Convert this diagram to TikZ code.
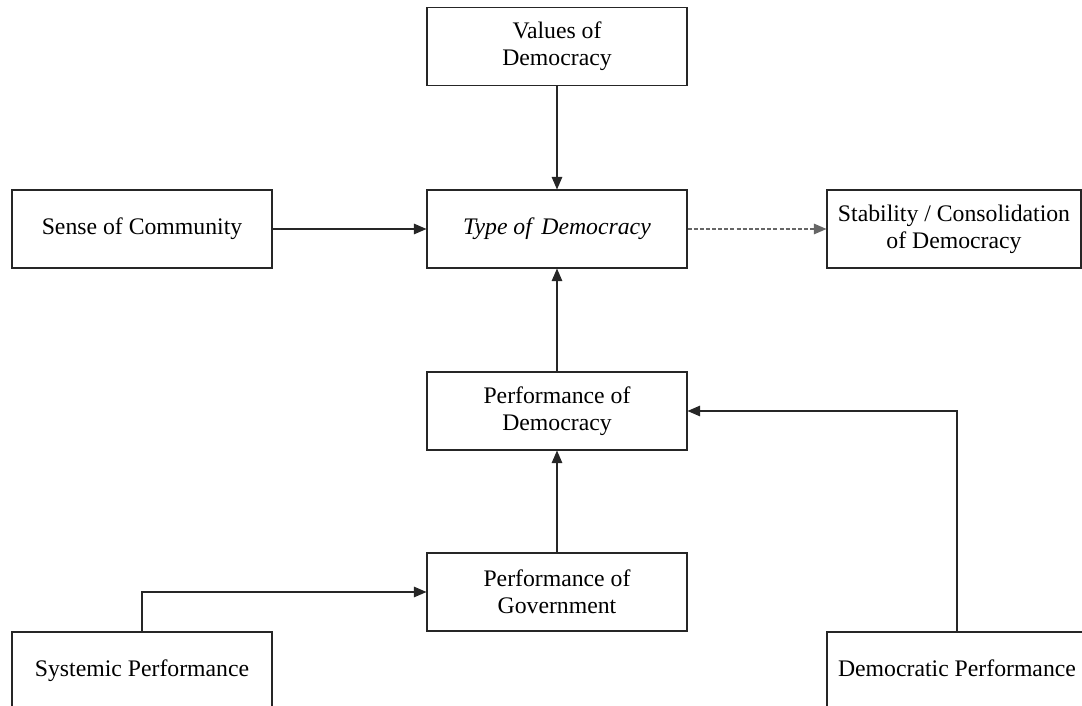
\documentclass[tikz,border=0pt]{standalone}
\usepackage{fontspec}
\setmainfont{Liberation Serif}
\usetikzlibrary{arrows.meta}
\begin{document}
\begin{tikzpicture}[x=0.75pt,y=-0.75pt,
  box/.style={draw=black!85,line width=0.8pt,rectangle,inner sep=0pt,
    minimum width=195pt,minimum height=58.5pt,align=center,
    font=\fontsize{17.8}{20.3}\selectfont},
  arr/.style={draw=black!85,line width=0.8pt,-{Triangle[length=9.5pt,width=8pt]}},
  darr/.style={arr,draw=black!60,dash pattern=on 3pt off 1.6pt}]
\useasboundingbox (0,0) rectangle (1082,706);
\clip (0,0) rectangle (1082,706);
\node[box] (val) at (557,46.5) {Values of\\Democracy};
\node[box] (type) at (557,229) {\itshape Type of\hspace{0.15em} Democracy};
\node[box,minimum width=190.5pt] (stab) at (954,229) {Stability / Consolidation\\of Democracy};
\node[box] (soc) at (142,229) {Sense of Community};
\node[box] (pd) at (557,411) {Performance of\\Democracy};
\node[box] (pg) at (557,592) {Performance of\\Government};
\node[box] (sys) at (142,671) {Systemic Performance};
\node[box] (dem) at (957,671) {Democratic Performance\vphantom{y}};
\draw[arr] (val) -- (type);
\draw[arr] (soc) -- (type);
\draw[darr] (type) -- (stab);
\draw[arr] (pd) -- (type);
\draw[arr] (pg) -- (pd);
\draw[arr] (sys.north) |- (pg.west);
\draw[arr] (dem.north) |- (pd.east);
\end{tikzpicture}
\end{document}
